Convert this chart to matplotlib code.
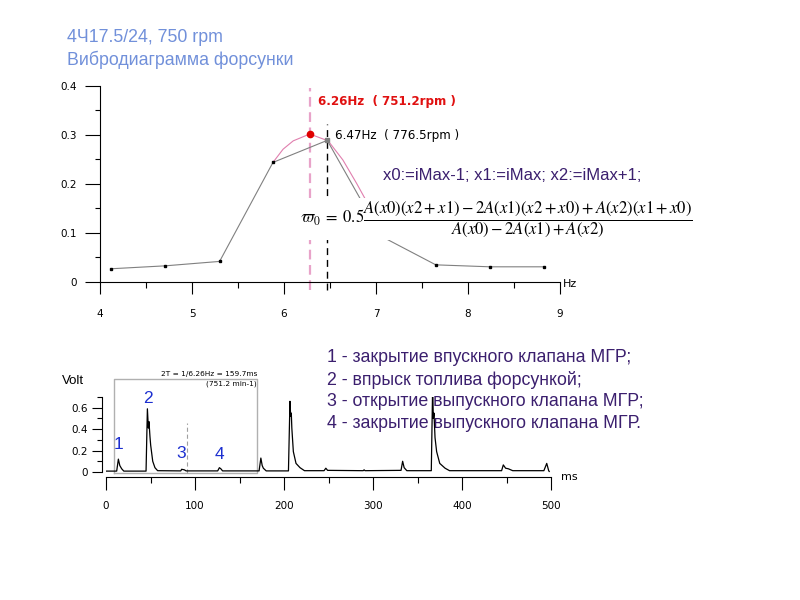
import matplotlib
matplotlib.use("Agg")
import matplotlib.pyplot as plt
from matplotlib.ticker import MultipleLocator

plt.rcParams.update({
    "font.family": ["DejaVu Sans"],
    "mathtext.fontset": "stix",
    "lines.scale_dashes": False,
})

# ── 数据：спектр ──
freq = [4.12, 4.71, 5.30, 5.88, 6.47, 7.06, 7.65, 8.24, 8.83]
amp = [0.027, 0.033, 0.042, 0.244, 0.289, 0.093, 0.035, 0.031, 0.031]

# параболическая аппроксимация
fit_f = [5.88, 5.99, 6.10, 6.28, 6.48, 6.64, 6.79, 6.89]
fit_a = [0.244, 0.271, 0.288, 0.302, 0.288, 0.249, 0.201, 0.167]

peak_f, peak_a = 6.28, 0.302      # оценка
grid_f = 6.47                      # максимум по сетке

# ── 数据：вибросигнал ──
sig_t = [0, 12, 13.9, 15.5, 17.6, 20,
         45, 46.5, 47.6, 48.3, 49.4, 50.2, 52.5, 55, 58,
         84, 85, 88, 90,
         125.5, 127.4, 129, 131,
         172, 174, 175.5, 176.8, 180,
         205, 206.7, 207.5, 208.2, 208.8, 210.5, 213.5, 218, 223,
         245, 247, 249,
         289, 290, 291,
         331.5, 333.3, 335, 338,
         365.5, 367, 367.8, 368.5, 369.7, 371.5, 375, 381, 386,
         444.5, 446.4, 449, 452, 457,
         492, 495.2, 497.4, 498]
sig_v = [0.008, 0.008, 0.12, 0.06, 0.03, 0.008,
         0.008, 0.59, 0.41, 0.47, 0.33, 0.25, 0.10, 0.04, 0.012,
         0.01, 0.025, 0.02, 0.01,
         0.01, 0.04, 0.03, 0.01,
         0.01, 0.13, 0.06, 0.035, 0.01,
         0.01, 0.66, 0.52, 0.55, 0.41, 0.19, 0.08, 0.04, 0.012,
         0.012, 0.035, 0.015,
         0.012, 0.02, 0.012,
         0.015, 0.10, 0.04, 0.012,
         0.012, 0.79, 0.50, 0.55, 0.32, 0.19, 0.08, 0.035, 0.012,
         0.012, 0.066, 0.035, 0.03, 0.012,
         0.012, 0.08, 0.012, 0.005]

# окно 2T и метки событий
win_t0, win_t1 = 9, 170
mid_t = 91
event_lbl = ["1", "2", "3", "4"]
event_t = [14, 47, 85, 127]
event_v = [0.19, 0.62, 0.10, 0.09]

legend_lines = ["1 - закрытие впускного клапана МГР;",
                "2 - впрыск топлива форсункой;",
                "3 - открытие выпускного клапана МГР;",
                "4 - закрытие выпускного клапана МГР."]

PURPLE = "#3b1f6e"
BLUE = "#1c2fd0"
PINK = "#e8a3c9"


def px(x, y):
    return x / 800, 1 - y / 600


fig = plt.figure(figsize=(8, 6), dpi=100)

# ── верхний график ──
ax = fig.add_axes([0.125, 0.53, 0.575, 0.3267])
ax.set_xlim(4, 9)
ax.set_ylim(0, 0.4)
ax.plot(fit_f, fit_a, color="#e07fae", lw=0.8, zorder=2)
ax.plot(freq, amp, color="#808080", lw=0.8, zorder=3)
ax.plot(freq, amp, ls="none", marker="s", ms=1.8, color="black", zorder=4)
ax.plot([grid_f], [amp[freq.index(grid_f)]], ls="none", marker="s", ms=3.5,
        color="#808080", zorder=5)
ax.plot([peak_f], [peak_a], ls="none", marker="o", ms=4.5, color="#e00000", zorder=5)
ax.plot([peak_f, peak_f], [-0.016, 0.396], color=PINK, lw=1.6, dashes=(7, 4),
        clip_on=False, zorder=1)
ax.plot([grid_f, grid_f], [-0.016, 0.322], color="black", lw=1, dashes=(5, 3.5),
        clip_on=False, zorder=1)

ax.xaxis.set_major_locator(MultipleLocator(1))
ax.xaxis.set_minor_locator(MultipleLocator(0.5))
ax.yaxis.set_major_locator(MultipleLocator(0.1))
ax.yaxis.set_minor_locator(MultipleLocator(0.05))
ax.yaxis.set_major_formatter(lambda v, p: "0" if v == 0 else f"{v:.1f}")
ax.tick_params(axis="x", which="major", length=8.6, width=0.8, pad=11, labelsize=7.5)
ax.tick_params(axis="x", which="minor", length=4.3, width=0.8)
ax.tick_params(axis="y", which="major", length=11, width=0.8, pad=6, labelsize=7.5)
ax.tick_params(axis="y", which="minor", length=3.6, width=0.8)
for s in ["top", "right"]:
    ax.spines[s].set_visible(False)
ax.patch.set_visible(False)

# ── нижний график ──
bx = fig.add_axes([0.1325, 0.205, 0.55625, 0.1333])
bx.set_xlim(0, 500)
bx.set_ylim(-0.047, 0.7)
bx.plot(sig_t, sig_v, color="black", lw=0.9, zorder=3)
bx.plot([win_t0, win_t1, win_t1, win_t0, win_t0], [-0.01, -0.01, 0.87, 0.87, -0.01],
        color="#b0b0b0", lw=1, clip_on=False, zorder=2)
bx.plot([mid_t, mid_t], [-0.01, 0.46], color="#a0a0a0", lw=0.8, dashes=(3, 2),
        clip_on=False, zorder=2)
bx.text(win_t1, 0.885, "2T = 1/6.26Hz = 159.7ms", ha="right", va="bottom",
        fontsize=5.3, clip_on=False)
bx.text(win_t1 - 1, 0.855, "(751.2 min-1)", ha="right", va="top",
        fontsize=5.3, clip_on=False)
for lbl, t, v in zip(event_lbl, event_t, event_v):
    bx.text(t, v, lbl, ha="center", va="bottom", color=BLUE, fontsize=12.5,
            family="Liberation Sans", clip_on=False)

bx.xaxis.set_major_locator(MultipleLocator(100))
bx.xaxis.set_minor_locator(MultipleLocator(50))
bx.yaxis.set_major_locator(MultipleLocator(0.2))
bx.yaxis.set_minor_locator(MultipleLocator(0.1))
bx.yaxis.set_major_formatter(lambda v, p: "0" if abs(v) < 1e-9 else f"{v:.1f}")
bx.tick_params(axis="x", which="major", length=9.4, width=0.8, pad=8, labelsize=7.5)
bx.tick_params(axis="x", which="minor", length=4.3, width=0.8)
bx.tick_params(axis="y", which="major", length=7, width=0.8, pad=3, labelsize=7.5)
bx.tick_params(axis="y", which="minor", length=3.5, width=0.8)
bx.spines["left"].set_bounds(0, 0.7)
bx.spines["left"].set_position(("outward", 3))
for s in ["top", "right"]:
    bx.spines[s].set_visible(False)
bx.patch.set_visible(False)

# ── тексты ──
fig.text(*px(67, 38), "4Ч17.5/24, 750 rpm", color="#7190da", fontsize=12.8,
         family="Liberation Sans", va="center")
fig.text(*px(67, 60), "Вибродиаграмма форсунки", color="#7190da", fontsize=12.8,
         family="Liberation Sans", va="center")
fig.text(*px(318, 102), "6.26Hz  ( 751.2rpm )", color="#e01010", fontsize=8.6,
         fontweight="bold", va="center")
fig.text(*px(335, 136), "6.47Hz  ( 776.5rpm )", color="black", fontsize=8.6, va="center")
fig.text(*px(383, 176), "x0:=iMax-1; x1:=iMax; x2:=iMax+1;", color=PURPLE,
         fontsize=12, family="Liberation Sans", va="center")
fig.text(*px(300, 219),
         r"$\varpi_0\;=\;0.5\dfrac{A(x0)(x2+x1)-2A(x1)(x2+x0)+A(x2)(x1+x0)}"
         r"{A(x0)-2A(x1)+A(x2)}$",
         fontsize=12, va="center", ha="left", zorder=5,
         bbox=dict(facecolor="white", edgecolor="none", pad=1))
fig.text(*px(563, 284), "Hz", fontsize=8, va="center")
fig.text(*px(561, 477), "ms", fontsize=8, va="center")
fig.text(*px(62, 381), "Volt", fontsize=9.5, family="Liberation Sans", va="center")
for i, line in enumerate(legend_lines):
    fig.text(*px(327, 358 + 22 * i), line, color=PURPLE, fontsize=12.8,
             family="Liberation Sans", va="center", zorder=-1)

fig.savefig("out.png", dpi=100)
